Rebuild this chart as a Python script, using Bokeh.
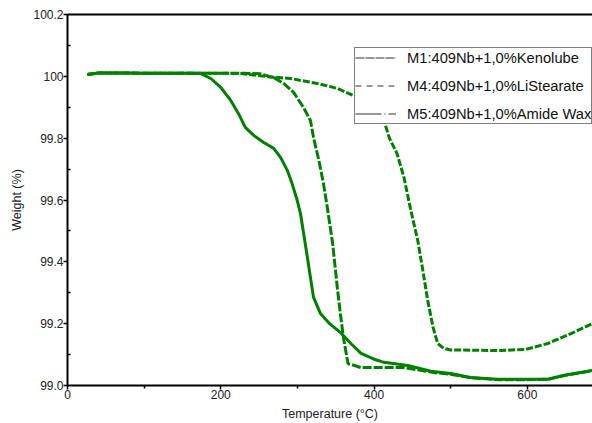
from bokeh.plotting import figure
from bokeh.models import (Range1d, LinearAxis, FixedTicker, CustomJSTickFormatter,
                          Legend, LegendItem)
from bokeh.embed import file_html
from bokeh.resources import INLINE

# ---- data ----
m1_temp = [26, 40, 60, 100, 140, 165, 174, 187, 200, 213, 223, 232, 243, 256, 269, 278,
           287, 293, 299, 304, 313, 321, 330, 342, 356, 370, 383, 400, 413, 444, 474,
           500, 526, 561, 600, 627, 648, 685]
m1_weight = [100.006, 100.011, 100.011, 100.01, 100.01, 100.01, 100.009, 99.993, 99.964,
             99.922, 99.880, 99.835, 99.809, 99.786, 99.767, 99.738, 99.695, 99.653,
             99.605, 99.556, 99.414, 99.285, 99.233, 99.200, 99.172, 99.135, 99.104,
             99.085, 99.075, 99.065, 99.046, 99.039, 99.026, 99.020, 99.020, 99.020,
             99.033, 99.049]

m4_temp = [26, 40, 60, 100, 150, 200, 230, 252, 270, 282, 295, 308, 317, 321, 328, 334,
           339, 346, 352, 356, 360, 366, 383, 439, 478, 500, 526, 561, 600, 627, 648, 685]
m4_weight = [100.006, 100.011, 100.011, 100.01, 100.01, 100.01, 100.01, 100.008, 99.995,
             99.977, 99.948, 99.899, 99.857, 99.802, 99.728, 99.653, 99.576, 99.459,
             99.317, 99.233, 99.155, 99.071, 99.058, 99.058, 99.042, 99.036, 99.025,
             99.019, 99.019, 99.020, 99.032, 99.048]

m5_temp = [26, 40, 60, 100, 150, 200, 226, 261, 291, 326, 352, 373, 395, 412, 420, 430,
           439, 448, 457, 463, 470, 477, 483, 491, 500, 565, 598, 627, 657, 685]
m5_weight = [100.006, 100.011, 100.011, 100.01, 100.01, 100.01, 100.009, 99.999, 99.993,
             99.977, 99.961, 99.938, 99.912, 99.864, 99.80, 99.75, 99.673, 99.566,
             99.469, 99.382, 99.275, 99.188, 99.136, 99.120, 99.115, 99.113, 99.117,
             99.136, 99.168, 99.200]

labels = ["M1:409Nb+1,0%Kenolube", "M4:409Nb+1,0%LiStearate", "M5:409Nb+1,0%Amide Wax"]
x_ticks = [0, 200, 400, 600]
x_minor = [100, 300, 500]
y_ticks = [99.0, 99.2, 99.4, 99.6, 99.8, 100.0, 100.2]
y_minor = [99.1, 99.3, 99.5, 99.7, 99.9, 100.1]

GREEN = "#008000"
FONT = "Liberation Sans"

p = figure(width=592, height=423, output_backend="svg", toolbar_location=None,
           x_range=Range1d(0, 685), y_range=Range1d(99.0, 100.2),
           min_border_left=67, min_border_right=0, min_border_top=14, min_border_bottom=38,
           x_axis_label="Temperature (°C)", y_axis_label="Weight (%)")
p.outline_line_color = None
p.xgrid.visible = False
p.ygrid.visible = False
p.background_fill_color = "white"
p.border_fill_color = "white"

# curves
p.line(m1_temp, m1_weight, line_color=GREEN, line_width=3)
p.line(m4_temp, m4_weight, line_color=GREEN, line_width=3, line_dash="9 2")
p.line(m5_temp, m5_weight, line_color=GREEN, line_width=3, line_dash="7 2")

# axes styling
xa = p.xaxis[0]
xa.ticker = FixedTicker(ticks=x_ticks, minor_ticks=x_minor)
ya = p.yaxis[0]
ya.ticker = FixedTicker(ticks=y_ticks, minor_ticks=y_minor)
ya.formatter = CustomJSTickFormatter(code="return Math.abs(tick-100)<1e-9 ? '100' : tick.toFixed(1);")

for ax in (xa, ya):
    ax.axis_line_width = 2
    ax.axis_line_color = "black"
    ax.major_tick_line_color = "black"
    ax.minor_tick_line_color = "black"
    ax.major_tick_line_width = 1.5
    ax.minor_tick_line_width = 1.5
    ax.major_tick_in = 0
    ax.major_tick_out = 4
    ax.major_label_text_font = FONT
    ax.major_label_text_font_size = "12px"
    ax.major_label_text_color = "#222222"
    ax.axis_label_text_font = FONT
    ax.axis_label_text_font_size = "12.5px"
    ax.axis_label_text_font_style = "normal"
    ax.axis_label_text_color = "#222222"
    ax.major_label_standoff = 0

xa.minor_tick_in = 0
xa.minor_tick_out = 3
xa.axis_label_standoff = 5
ya.minor_tick_in = 3
ya.minor_tick_out = 0
ya.axis_label_standoff = 6

# top border line
top = LinearAxis(ticker=FixedTicker(ticks=[]), axis_line_width=2, axis_line_color="black",
                 major_tick_out=0, major_tick_in=0, minor_tick_out=0, minor_tick_in=0,
                 major_label_standoff=0)
p.add_layout(top, "above")

# legend with grey sample lines (renderers placed outside the visible range)
dashes = ["9 1", "6 5", "26 3 1 3"]
items = []
for lab, d in zip(labels, dashes):
    r = p.line(x=[-200, -150], y=[98.0, 98.0], line_color="#333333", line_width=1, line_dash=d)
    items.append(LegendItem(label=lab, renderers=[r]))
leg = Legend(items=items, location=(287, 261), padding=0, margin=0, spacing=9,
             glyph_width=41, glyph_height=19, label_height=19, label_standoff=11,
             label_text_font=FONT, label_text_font_size="14.7px", label_text_color="#111111",
             border_line_color="black", border_line_width=1.5,
             background_fill_color="white", background_fill_alpha=1.0)
p.add_layout(leg)

open("out.html", "w").write(file_html(p, INLINE))
